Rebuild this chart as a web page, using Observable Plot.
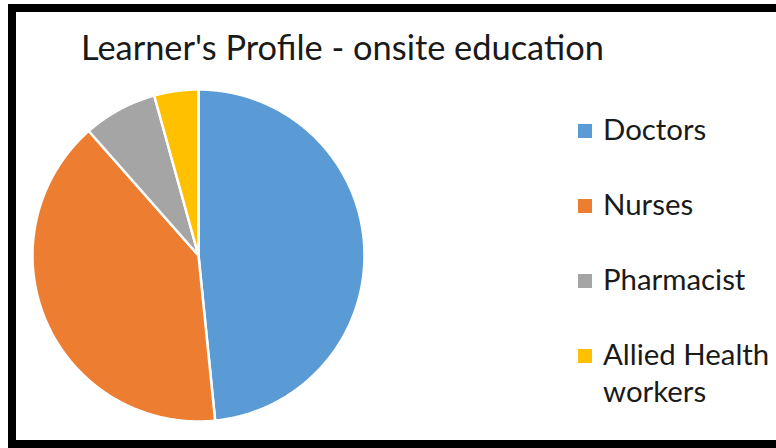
<!DOCTYPE html>
<html>
<head>
<meta charset="utf-8">
<script src="https://cdn.jsdelivr.net/npm/d3@7"></script>
<script src="https://cdn.jsdelivr.net/npm/@observablehq/plot@0.6"></script>
<style>
  html, body { margin: 0; padding: 0; background: #fff; width: 776px; height: 448px; overflow: hidden; }
  body { position: relative; font-family: Lato, "Open Sans", sans-serif; color: #1a1a1a; }
  #frame { position: absolute; left: 8px; top: 4px; width: 800px; height: 428px; border: 8px solid #000; box-sizing: content-box; }
  #title { position: absolute; left: 81px; top: 26px; font-size: 34.4px; line-height: 1.2; white-space: nowrap; }
  #chart { position: absolute; left: 0; top: 0; }
  .lg { position: absolute; left: 603px; font-size: 29.4px; line-height: 37px; white-space: nowrap; }
  .sw { position: absolute; left: 578px; width: 14px; height: 14px; }
</style>
</head>
<body>
<div id="frame"></div>
<div id="title">Learner's Profile - onsite education</div>
<div id="chart"></div>
<div id="legend"></div>
<script>
// Data (percent share)
const categories = ["Doctors", "Nurses", "Pharmacist", "Allied Health workers"];
const shares = [48.4, 40.1, 7.2, 4.3];
const colors = ["#5B9BD5", "#ED7D31", "#A5A5A5", "#FFC000"];

// Build slice outlines from the values (clockwise from 12 o'clock)
const total = d3.sum(shares);
const rows = [];
let start = 0;
categories.forEach((c, i) => {
  const end = start + shares[i] / total * 2 * Math.PI;
  rows.push({cat: c, x: 0, y: 0});
  const n = Math.max(2, Math.ceil((end - start) / (Math.PI / 360)));
  for (let k = 0; k <= n; k++) {
    const a = start + (end - start) * k / n;
    rows.push({cat: c, x: Math.sin(a), y: Math.cos(a)});
  }
  rows.push({cat: c, x: 0, y: 0});
  start = end;
});

const cx = 198, cy = 255, r = 166;
const W = 400, H = 448;
const plot = Plot.plot({
  width: W, height: H,
  marginLeft: cx - r, marginRight: W - (cx + r),
  marginTop: cy - r, marginBottom: H - (cy + r),
  x: {domain: [-1, 1], axis: null},
  y: {domain: [-1, 1], axis: null},
  color: {domain: categories, range: colors},
  style: {background: "transparent", overflow: "visible"},
  marks: [
    Plot.line(rows, {x: "x", y: "y", z: "cat", fill: "cat", stroke: "white", strokeWidth: 2.5, strokeLinejoin: "round", curve: "linear"})
  ]
});
document.getElementById("chart").appendChild(plot);

// Legend
const F = 29.4, LH = 37;
const baselines = [140, 215, 290, 365];
const leg = document.getElementById("legend");
categories.forEach((c, i) => {
  const sw = document.createElement("div");
  sw.className = "sw";
  sw.style.top = (baselines[i] - 16) + "px";
  sw.style.background = plot.scale("color").apply(c);
  leg.appendChild(sw);
  const t = document.createElement("div");
  t.className = "lg";
  t.style.top = (baselines[i] - F * 0.987 - (LH - F * 1.2) / 2) + "px";
  t.innerHTML = c === "Allied Health workers" ? "Allied Health<br>workers" : c;
  leg.appendChild(t);
});
</script>
</body>
</html>
